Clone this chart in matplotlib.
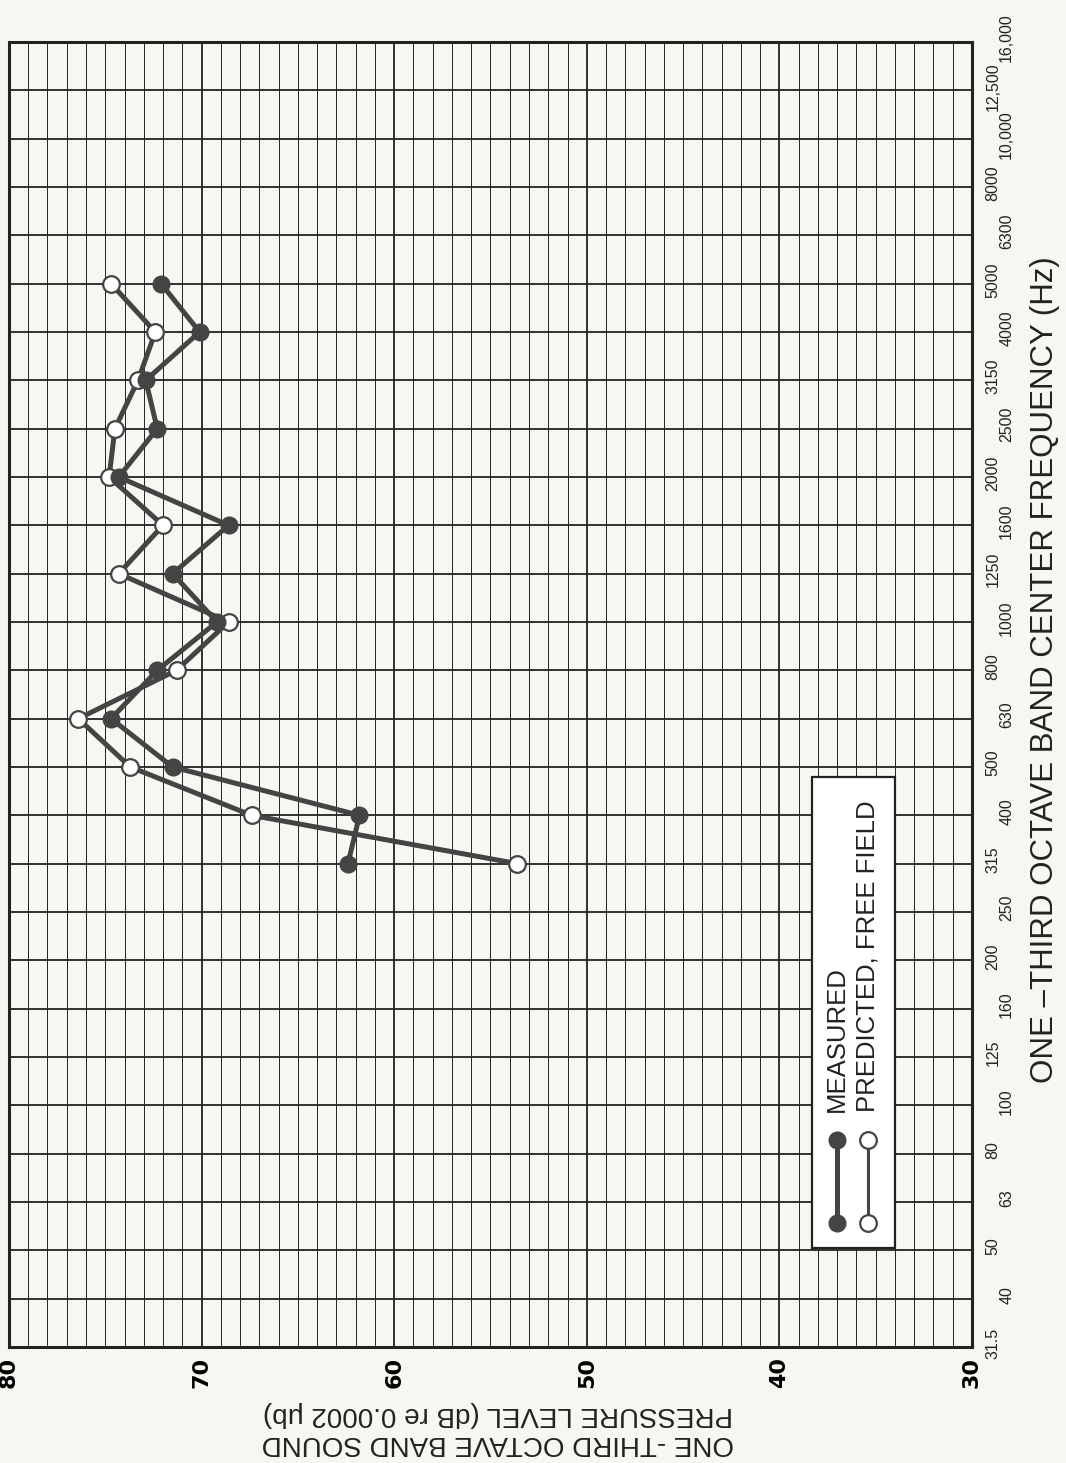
import matplotlib.pyplot as plt
from matplotlib.transforms import blended_transform_factory

# one-third octave band centres (Hz)
band_labels = ['31.5', '40', '50', '63', '80', '100', '125', '160', '200', '250',
               '315', '400', '500', '630', '800', '1000', '1250', '1600', '2000',
               '2500', '3150', '4000', '5000', '6300', '8000', '10,000', '12,500',
               '16,000']

# bands where levels were taken
data_bands = ['315', '400', '500', '630', '800', '1000', '1250', '1600', '2000',
              '2500', '3150', '4000', '5000']
measured_db = [62.4, 61.8, 71.5, 74.7, 72.3, 69.2, 71.5, 68.6, 74.3, 72.3, 72.9, 70.1, 72.1]
predicted_db = [53.6, 67.4, 73.7, 76.4, 71.3, 68.6, 74.3, 72.0, 74.8, 74.5, 73.3, 72.4, 74.7]

db_ticks = [80, 70, 60, 50, 40, 30]

paper = '#f7f7f2'
ink = '#222222'
trace = '#444444'

fig = plt.figure(figsize=(10.66, 14.63), dpi=100, facecolor=paper)
ax = fig.add_axes([0.0084, 0.0793, 0.9034, 0.892])
ax.set_facecolor(paper)

n = len(band_labels)
ax.set_xlim(80, 30)
ax.set_ylim(0, n - 1)

# graph paper: 1 dB columns, heavier every 10 dB, one row per band
for d in range(31, 80):
    lw = 1.3 if d % 10 == 0 else 0.7
    ax.axvline(d, color=ink, lw=lw, zorder=1)
for i in range(1, n - 1):
    ax.axhline(i, color=ink, lw=1.3, zorder=1)

for s in ax.spines.values():
    s.set_linewidth(2.2)
    s.set_color(ink)

ax.set_xticks(db_ticks)
ax.set_xticklabels([str(t) for t in db_ticks], rotation=90, fontsize=16,
                   fontweight='bold', family='DejaVu Sans')
ax.tick_params(axis='x', length=0, pad=7)
ax.set_yticks([])

# staggered band labels to the right of the frame
tr = blended_transform_factory(ax.transAxes, ax.transData)
for i, lab in enumerate(band_labels):
    xoff = 1.022 if i % 2 == 0 else 1.036
    ax.text(xoff, i + 0.08, lab, transform=tr, rotation=90, ha='center',
            va='center', fontsize=11.5, family='Liberation Sans', color=ink,
            clip_on=False)

yi = [band_labels.index(b) for b in data_bands]
ax.plot(predicted_db, yi, color=trace, lw=3.6, marker='o', ms=12,
        mfc='white', mec=trace, mew=1.6, zorder=3)
ax.plot(measured_db, yi, color=trace, lw=3.6, marker='o', ms=12,
        mfc=trace, mec=trace, zorder=4)

# legend box
box = plt.Rectangle((0.834, 0.076), 0.086, 0.361, transform=ax.transAxes,
                    facecolor='white', edgecolor=ink, lw=1.6, zorder=5)
ax.add_patch(box)
ax.plot([0.860, 0.860], [0.095, 0.1586], transform=ax.transAxes, color=trace,
        lw=3.6, marker='o', ms=12, mfc=trace, mec=trace, zorder=6)
ax.plot([0.892, 0.892], [0.095, 0.1586], transform=ax.transAxes, color=trace,
        lw=2.2, marker='o', ms=12, mfc='white', mec=trace, mew=1.6, zorder=6)
ax.text(0.860, 0.180, 'MEASURED', transform=ax.transAxes, rotation=90,
        ha='center', va='bottom', fontsize=18.5, family='Liberation Sans',
        color=ink, zorder=7)
ax.text(0.892, 0.180, 'PREDICTED, FREE FIELD', transform=ax.transAxes,
        rotation=90, ha='center', va='bottom', fontsize=18.5,
        family='Liberation Sans', color=ink, zorder=7)

# axis titles
fig.text(0.980, 0.542, 'ONE \u2013THIRD OCTAVE BAND CENTER FREQUENCY (Hz)',
         rotation=90, ha='center', va='center', fontsize=22.5,
         family='Liberation Sans', color=ink)
fig.text(0.467, 1 - 1414 / 1463, 'PRESSURE LEVEL (dB re 0.0002 \u03bcb)',
         rotation=180, ha='center', va='center', fontsize=20,
         family='Liberation Sans', color=ink)
fig.text(0.467, 1 - 1443 / 1463, 'ONE -THIRD OCTAVE BAND SOUND',
         rotation=180, ha='center', va='center', fontsize=20,
         family='Liberation Sans', color=ink)

fig.savefig('out.png', dpi=100, facecolor=paper)
